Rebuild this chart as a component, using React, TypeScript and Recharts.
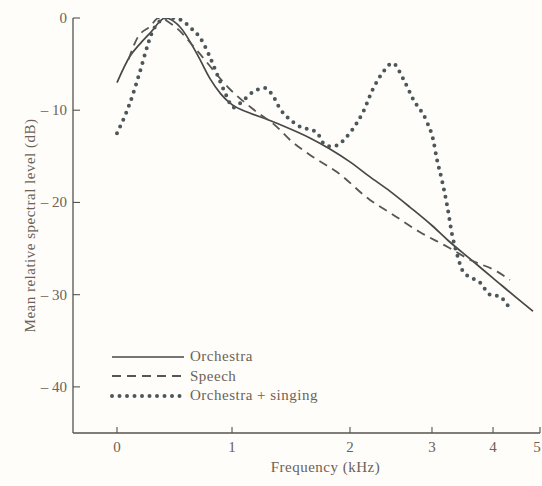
import { LineChart, Line, XAxis, YAxis, Legend } from "recharts";

// ===== data: frequency (kHz) / mean relative level (dB) =====
const ORCH_FREQ = [0, 0.11, 0.2, 0.29, 0.42, 0.55, 0.7, 0.81, 0.9, 1.0, 1.15, 1.3, 1.49, 1.66, 1.83, 2.0, 2.24, 2.49, 2.73, 3.0, 3.26, 3.62, 4.0, 4.49, 4.85];
const ORCH_LEVEL = [-7.0, -4.2, -2.8, -1.6, 0, -1.0, -4.0, -6.6, -8.2, -9.4, -10.3, -11.0, -12.0, -13.0, -14.2, -15.6, -17.2, -18.8, -20.5, -22.5, -24.1, -26.1, -28.2, -30.3, -31.8];

const SPEECH_FREQ = [0.1, 0.18, 0.29, 0.36, 0.5, 0.7, 0.98, 1.18, 1.38, 1.49, 1.69, 1.89, 2.24, 2.52, 2.85, 3.25, 3.62, 4.09, 4.36];
const SPEECH_LEVEL = [-4.5, -2.1, -0.9, 0, -0.9, -3.6, -7.7, -9.9, -11.8, -13.2, -15.1, -16.7, -19.7, -21.3, -23.2, -24.8, -26.2, -27.5, -28.4];

const SING_FREQ = [0, 0.11, 0.2, 0.27, 0.3, 0.36, 0.43, 0.5, 0.58, 0.66, 0.72, 0.8, 0.88, 0.95, 1.01, 1.09, 1.18, 1.28, 1.34, 1.41, 1.49, 1.58, 1.66, 1.72, 1.77, 1.83, 1.89, 1.97, 2.09, 2.16, 2.28, 2.4, 2.52, 2.65, 2.77, 2.94, 3.02, 3.08, 3.16, 3.25, 3.33, 3.41, 3.51, 3.66, 3.79, 3.95, 4.15, 4.3, 4.4];
const SING_LEVEL = [-12.5, -9.3, -5.8, -2.8, -1.7, -0.5, 0, 0, -0.4, -1.3, -2.1, -4.0, -6.4, -8.4, -9.7, -9.0, -8.0, -7.6, -8.3, -9.9, -11.0, -11.8, -12.1, -12.4, -13.5, -13.9, -13.8, -12.9, -11.3, -10.2, -7.7, -5.9, -4.9, -6.6, -8.8, -11.3, -13.2, -15.3, -17.5, -20.4, -23.5, -25.6, -27.5, -28.2, -28.7, -30.0, -30.2, -31.1, -31.6];

const SERIES_NAMES = ["Orchestra", "Speech", "Orchestra + singing"];
const X_TICKS = [0, 1, 2, 3, 4, 5];
const Y_TICKS = [0, -10, -20, -30, -40];

// the printed frequency axis is not linear: knots (kHz) -> fraction of axis length
const WARP_KHZ = [-0.38, 0, 1, 2, 3, 4, 5];
const WARP_POS = [0, 0.0942, 0.3405, 0.5931, 0.7687, 0.8994, 1];

// ===== styles =====
const W = 542;
const H = 486;
const FONT = '"Liberation Serif", "DejaVu Serif", serif';
const TEXT = "#6c6258";
const AXIS = "#57534e";
const LINE = "#474746";
const DOTS = "#4b575b";

const STYLES: Record<string, { stroke: string; width: number; dash?: string }> = {
  Orchestra: { stroke: LINE, width: 1.7 },
  Speech: { stroke: "#565654", width: 1.8, dash: "9 6" },
  "Orchestra + singing": { stroke: DOTS, width: 4, dash: "0 7.5" },
};

// ===== helpers =====
const toRows = (xs: number[], ys: number[]) =>
  xs.map((f, i) => ({ f, db: ys[i] }));

const warpFrac = (v: number) => {
  let i = 0;
  while (i < WARP_KHZ.length - 2 && v > WARP_KHZ[i + 1]) i++;
  const t = (v - WARP_KHZ[i]) / (WARP_KHZ[i + 1] - WARP_KHZ[i]);
  return WARP_POS[i] + t * (WARP_POS[i + 1] - WARP_POS[i]);
};

const unwarp = (u: number) => {
  let i = 0;
  while (i < WARP_POS.length - 2 && u > WARP_POS[i + 1]) i++;
  const t = (u - WARP_POS[i]) / (WARP_POS[i + 1] - WARP_POS[i]);
  return WARP_KHZ[i] + t * (WARP_KHZ[i + 1] - WARP_KHZ[i]);
};

// minimal d3-like scale so recharts can use the warped axis
function warpScale(dom: number[] = [-0.38, 5], rng: number[] = [0, 1]): any {
  const s: any = (v: number) => rng[0] + warpFrac(v) * (rng[1] - rng[0]);
  s.domain = (d?: number[]) => {
    if (!d) return dom;
    dom = d.slice();
    return s;
  };
  s.range = (r?: number[]) => {
    if (!r) return rng;
    rng = r.slice();
    return s;
  };
  s.copy = () => warpScale(dom.slice(), rng.slice());
  s.ticks = () => X_TICKS;
  s.invert = (px: number) => unwarp((px - rng[0]) / (rng[1] - rng[0]));
  return s;
}

const fmtDb = (v: number) => (v === 0 ? "0" : `\u2013 ${Math.abs(v)}`);

const XTick = ({ x, y, payload }: any) => (
  <g>
    <line x1={x} x2={x} y1={y} y2={y - 6} stroke={AXIS} strokeWidth={1.1} />
    <text
      x={Math.min(x, W - 5)}
      y={y + 19}
      textAnchor="middle"
      fill={TEXT}
      fontSize={15}
      fontFamily={FONT}
    >
      {payload.value}
    </text>
  </g>
);

const YTick = ({ x, y, payload }: any) => (
  <g>
    <line x1={x} x2={x + 7} y1={y} y2={y} stroke={AXIS} strokeWidth={1.1} />
    <text x={x - 6} y={y + 5} textAnchor="end" fill={TEXT} fontSize={15} fontFamily={FONT}>
      {fmtDb(payload.value)}
    </text>
  </g>
);

const XTitle = (props: any) => {
  const vb = props.viewBox ?? { x: 73, y: 433, width: 467, height: 53 };
  return (
    <text
      x={vb.x + vb.width / 2 + 19}
      y={vb.y + 39}
      textAnchor="middle"
      fill={TEXT}
      fontSize={15}
      fontFamily={FONT}
      style={{ letterSpacing: 0.5 }}
    >
      Frequency (kHz)
    </text>
  );
};

const YTitle = (props: any) => {
  const vb = props.viewBox ?? { x: 0, y: 18, width: 73, height: 415 };
  const cx = vb.x + 35;
  const cy = vb.y + vb.height / 2;
  return (
    <text
      x={cx}
      y={cy}
      transform={`rotate(-90, ${cx}, ${cy})`}
      textAnchor="middle"
      fill={TEXT}
      fontSize={15}
      fontFamily={FONT}
      style={{ letterSpacing: 0.5 }}
    >
      Mean relative spectral level (dB)
    </text>
  );
};

const LegendBox = () => (
  <div style={{ fontFamily: FONT, fontSize: 15, color: TEXT, letterSpacing: 0.5 }}>
    {SERIES_NAMES.map((name) => {
      const st = STYLES[name];
      return (
        <div key={name} style={{ display: "flex", alignItems: "center", height: 19.5 }}>
          <svg width={80} height={10} style={{ marginRight: 2 }}>
            <line
              x1={4}
              x2={76}
              y1={5}
              y2={5}
              stroke={st.stroke}
              strokeWidth={st.width}
              strokeDasharray={st.dash}
              strokeLinecap={name === "Orchestra + singing" ? "round" : "butt"}
            />
          </svg>
          <span>{name}</span>
        </div>
      );
    })}
  </div>
);

// ===== component =====
export default function App() {
  const series = [
    { name: SERIES_NAMES[0], data: toRows(ORCH_FREQ, ORCH_LEVEL) },
    { name: SERIES_NAMES[1], data: toRows(SPEECH_FREQ, SPEECH_LEVEL) },
    { name: SERIES_NAMES[2], data: toRows(SING_FREQ, SING_LEVEL) },
  ];

  return (
    <div
      style={{
        position: "absolute",
        left: 0,
        top: 0,
        width: W,
        height: H,
        background: "#fefdf9",
      }}
    >
      <LineChart width={W} height={H} margin={{ top: 18, right: 2, left: 0, bottom: 0 }}>
        <XAxis
          type="number"
          dataKey="f"
          domain={[-0.38, 5]}
          allowDataOverflow
          scale={warpScale()}
          ticks={X_TICKS}
          interval={0}
          height={53}
          tickSize={0}
          tickMargin={0}
          tick={<XTick />}
          stroke={AXIS}
          strokeWidth={1.3}
          label={XTitle}
        />
        <YAxis
          type="number"
          dataKey="db"
          domain={[-45, 0]}
          allowDataOverflow
          ticks={Y_TICKS}
          interval={0}
          width={73}
          tickSize={0}
          tickMargin={0}
          tick={<YTick />}
          stroke={AXIS}
          strokeWidth={1.3}
          label={YTitle}
        />
        <Legend
          layout="vertical"
          align="center"
          verticalAlign="middle"
          content={<LegendBox />}
          wrapperStyle={{ left: 108, top: 347, width: 280 }}
        />
        {series.map((s) => {
          const st = STYLES[s.name];
          return (
            <Line
              key={s.name}
              name={s.name}
              data={s.data}
              dataKey="db"
              type="monotone"
              stroke={st.stroke}
              strokeWidth={st.width}
              strokeDasharray={st.dash}
              strokeLinecap={s.name === "Orchestra + singing" ? "round" : "butt"}
              dot={false}
              activeDot={false}
              isAnimationActive={false}
            />
          );
        })}
      </LineChart>
    </div>
  );
}
